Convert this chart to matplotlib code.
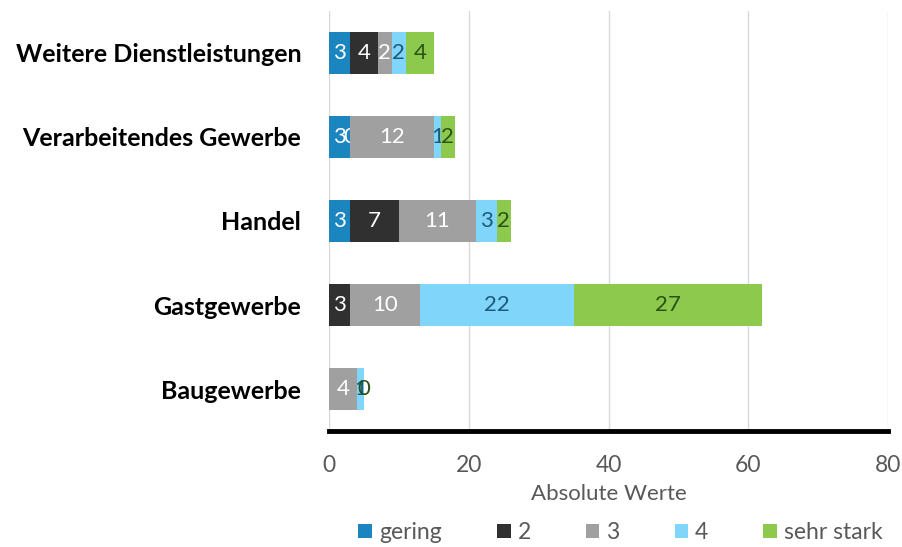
import numpy as np
import matplotlib.pyplot as plt

plt.rcParams['font.family'] = ['Lato', 'DejaVu Sans']

# categories bottom to top
branchen = ['Baugewerbe', 'Gastgewerbe', 'Handel',
            'Verarbeitendes Gewerbe', 'Weitere Dienstleistungen']
stufen = ['gering', '2', '3', '4', 'sehr stark']

gering = [0, 0, 3, 3, 3]
stufe2 = [0, 3, 7, 0, 4]
stufe3 = [4, 10, 11, 12, 2]
stufe4 = [1, 22, 3, 1, 2]
sehr_stark = [0, 27, 2, 2, 4]

farben = ['#1b85bf', '#303030', '#a0a0a0', '#80d5fa', '#8cc94c']
text_farben = ['white', 'white', 'white', '#1d5a7a', '#2b5217']

fig = plt.figure(figsize=(9.02, 5.47), dpi=100)
ax = fig.add_axes([0.3647, 0.212, 0.62, 0.768])

y = np.arange(len(branchen))
links = np.zeros(len(branchen))
werte = [gering, stufe2, stufe3, stufe4, sehr_stark]
for name, vals, col, tcol in zip(stufen, werte, farben, text_farben):
    bars = ax.barh(y, vals, left=links, height=0.49, color=col, label=name, zorder=3)
    ax.bar_label(bars, labels=[str(v) for v in vals], label_type='center',
                 color=tcol, fontsize=16)
    links += np.array(vals)

ax.set_xlim(0, 80)
ax.set_ylim(-0.5, 4.5)
ax.set_xticks([0, 20, 40, 60, 80])
ax.set_yticks(y)
ax.set_yticklabels(branchen, fontsize=18, fontweight='bold')
ax.tick_params(axis='y', length=0, pad=20)
ax.tick_params(axis='x', length=0, labelsize=16.5, labelcolor='#595959', pad=17)
ax.grid(axis='x', color='#d9d9d9', linewidth=1, zorder=0)

for s in ['top', 'right', 'left']:
    ax.spines[s].set_visible(False)
ax.spines['bottom'].set_color('black')
ax.spines['bottom'].set_linewidth(3.5)

ax.set_xlabel('Absolute Werte', fontsize=16, color='#595959', labelpad=6)

fig.legend(loc='center', bbox_to_anchor=(0.688, 0.026), ncol=5, frameon=False,
           fontsize=16.5, handlelength=0.6, handleheight=0.6, handletextpad=0.3,
           columnspacing=2.4, labelcolor='#595959')

fig.savefig('out.png', dpi=100)
